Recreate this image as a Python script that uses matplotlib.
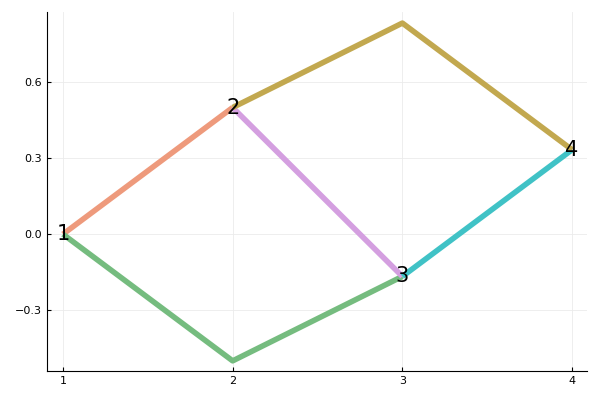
import matplotlib
matplotlib.use("Agg")
import matplotlib.pyplot as plt

# edges as polylines (x, y)
edges_x = [[1, 2], [1, 2, 3], [2, 3], [3, 4], [2, 3, 4]]
edges_y = [[0, 0.5], [0, -0.5, -0.1667], [0.5, -0.1667], [-0.1667, 0.3333], [0.5, 0.8333, 0.3333]]
edge_colors = ['#EE9A7C', '#75BC7F', '#D49FE0', '#40C2C6', '#C2A84F']

node_x = [1, 2, 3, 4]
node_y = [0, 0.5, -0.1667, 0.3333]
node_labels = ['1', '2', '3', '4']

fig = plt.figure(figsize=(6, 4), dpi=100)
ax = fig.add_axes([47 / 600, 29 / 400, 540 / 600, 359 / 400])

for xs, ys, c in zip(edges_x, edges_y, edge_colors):
    ax.plot(xs, ys, color=c, lw=4, solid_capstyle='butt')

for x, y, t in zip(node_x, node_y, node_labels):
    ax.text(x, y, t, ha='center', va='center', fontsize=15)

ax.set_xlim(0.906, 4.088)
ax.set_ylim(-0.54, 0.877)
ax.set_xticks([1, 2, 3, 4])
ax.set_yticks([-0.3, 0.0, 0.3, 0.6])
ax.set_yticklabels(['\u22120.3', '0.0', '0.3', '0.6'])
ax.tick_params(labelsize=8, length=3, direction='in')
ax.grid(True, color='#EBEBEB', lw=0.6)
ax.set_axisbelow(True)
for s in ['top', 'right']:
    ax.spines[s].set_visible(False)

fig.savefig('out.png', dpi=100)
